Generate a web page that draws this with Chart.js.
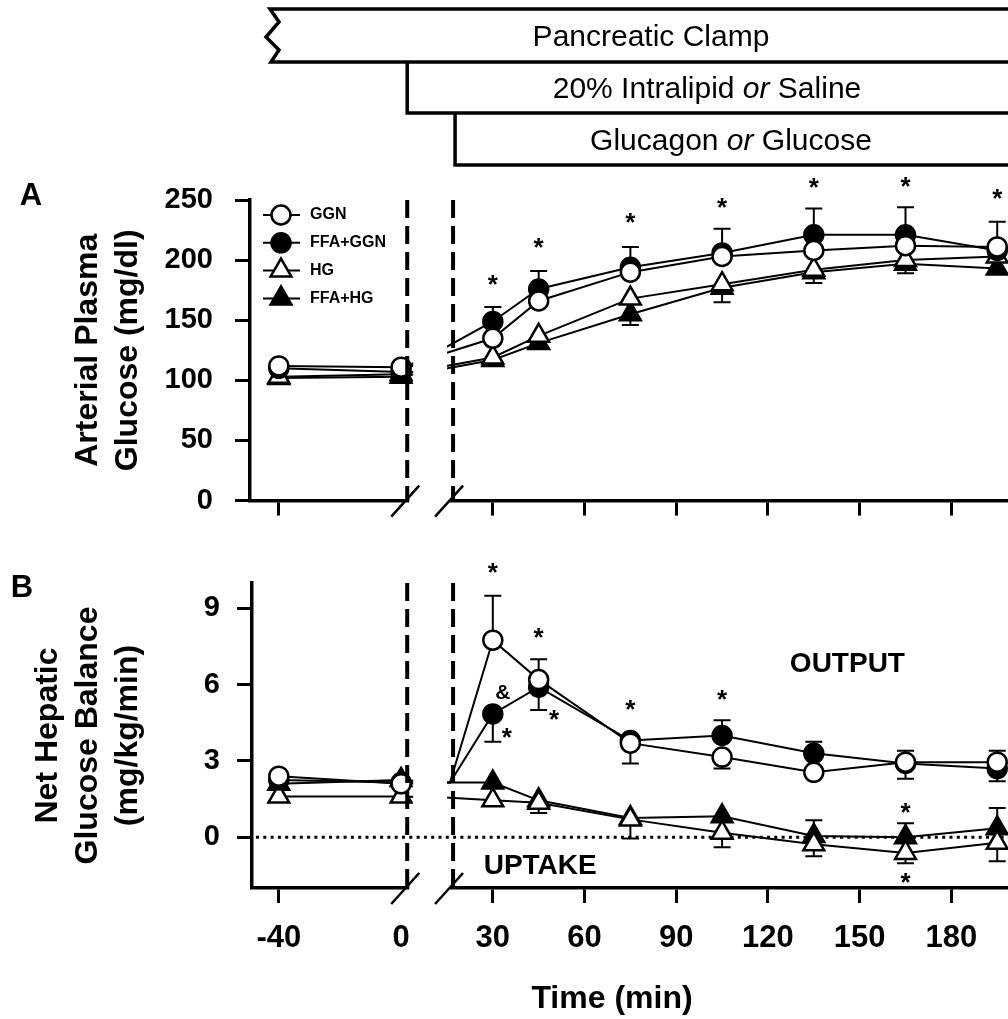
<!DOCTYPE html>
<html>
<head>
<meta charset="utf-8">
<script src="https://cdn.jsdelivr.net/npm/chart.js@4.4.0/dist/chart.umd.min.js"></script>
<style>
  body { margin: 0; background: #fff; }
  #wrap { position: relative; width: 1008px; height: 1019px; overflow: hidden; }
  canvas { position: absolute; left: 0; }
  #chartA { top: 0; }
  #chartB { top: 540px; }
</style>
</head>
<body>
<div id="wrap">
  <!-- a bit wider than the page: Chart.js keeps room for the end symbols on the right -->
  <canvas id="chartA" width="1023" height="540"></canvas>
  <canvas id="chartB" width="1023" height="479"></canvas>
</div>
<script>
const FONT = '"Liberation Sans", Arial, Helvetica, sans-serif'

const seriesNames = ['GGN', 'FFA+GGN', 'HG', 'FFA+HG']
const xTicks = [-40, 0, 30, 60, 90, 120, 150, 180]

// panel A: arterial plasma glucose (mg/dl)
const timesA = [-40, 0, 30, 45, 75, 105, 135, 165, 195]
const ggnA = [112, 111, 135, 166, 190, 203, 208, 212, 211]
const ffaGgnA = [110, 107, 149, 176, 194, 206, 221, 221, 208]
const hgA = [103, 105, 119, 137, 168, 180, 192, 200, 203]
const ffaHgA = [102, 103, 117, 131, 155, 177, 190, 197, 193]
// SEM, sign = side of the point the bar is drawn on, 0 = not shown
const ggnErrA = [0, 0, 0, 0, 0, 0, 0, 0, 0]
const ffaGgnErrA = [0, 0, 12, 15, 17, 20, 22, 23, 24]
const hgErrA = [0, 0, 0, 0, 0, -15, -11, -11, 0]
const ffaHgErrA = [0, 0, 0, -4, -9, 0, 0, 0, 0]
const yTicksA = [0, 50, 100, 150, 200, 250]
const starsA = [[30, 184], [45, 214.5], [75, 235], [105, 248], [135, 264], [165, 265], [195, 255]]

// panel B: net hepatic glucose balance (mg/kg/min)
const timesB = [-40, 0, 16, 30, 45, 75, 105, 135, 165, 195]
const lineStartB = 16 // post-break lines start here, no symbol
const ggnB = [2.4, 2.1, 2.15, 7.75, 6.2, 3.7, 3.15, 2.55, 2.95, 2.95]
const ffaGgnB = [2.25, 2.15, 2.15, 4.85, 5.9, 3.8, 4.0, 3.3, 2.9, 2.7]
const hgB = [1.6, 1.6, 1.55, 1.45, 1.35, 0.7, 0.17, -0.28, -0.62, -0.22]
const ffaHgB = [2.1, 2.25, 2.15, 2.15, 1.45, 0.75, 0.82, 0.05, 0.0, 0.35]
const ggnErrB = [0, 0, 0, 1.75, 0.8, -0.8, -0.45, 0, 0.45, 0.45]
const ffaGgnErrB = [0, 0, 0, -1.1, -0.9, 0, 0.6, 0.45, -0.6, -0.5]
const hgErrB = [0, 0, 0, 0, -0.4, 0, -0.57, -0.47, -0.41, -0.73]
const ffaHgErrB = [0, 0, 0, 0, 0, -0.8, 0, 0.62, 0.55, 0.8]
const yTicksB = [0, 3, 6, 9]
const marksB = [[30, 10.6, '*'], [33.3, 5.65, '&'], [34.6, 4.1, '*'], [45, 8.05, '*'], [50, 4.8, '*'],
  [75, 5.2, '*'], [105, 5.6, '*'], [165, 1.15, '*'], [165, -1.6, '*']]
const labelsB = [[146, 6.8, 'OUTPUT'], [45.5, -1.15, 'UPTAKE']]

// axis break (min)
const breakFrom = 2
const breakTo = 17

const styles = [
  { shape: 'circle', fill: '#fff', r: 9.5 },
  { shape: 'circle', fill: '#000', r: 9.5 },
  { shape: 'triangle', fill: '#fff', r: 12 },
  { shape: 'triangle', fill: '#000', r: 12 }
]

function makeSets(times, series, hidePointAt) {
  return series.map((vals, i) => ({
    label: seriesNames[i],
    data: times.map((t, j) => ({ x: t, y: vals[j] })),
    borderColor: '#000',
    borderWidth: 2,
    pointStyle: styles[i].shape,
    pointRadius: ctx => (times[ctx.dataIndex] === hidePointAt ? 0 : styles[i].r),
    pointBackgroundColor: styles[i].fill,
    pointBorderColor: '#000',
    pointBorderWidth: 2.5,
    tension: 0
  }))
}

function drawErrors(chart, errs) {
  const { ctx, scales: { x, y } } = chart
  ctx.save()
  ctx.strokeStyle = '#000'
  ctx.lineWidth = 2
  errs.forEach((arr, i) => {
    const pts = chart.data.datasets[i].data
    arr.forEach((e, j) => {
      if (!e) return
      const px = x.getPixelForValue(pts[j].x)
      const py = y.getPixelForValue(pts[j].y)
      const pe = y.getPixelForValue(pts[j].y + e)
      ctx.beginPath()
      ctx.moveTo(px, py)
      ctx.lineTo(px, pe)
      ctx.moveTo(px - 8.5, pe)
      ctx.lineTo(px + 8.5, pe)
      ctx.stroke()
    })
  })
  ctx.restore()
}

function drawZeroLine(chart) {
  const { ctx, chartArea: a, scales: { y } } = chart
  const y0 = y.getPixelForValue(0)
  ctx.save()
  ctx.strokeStyle = '#000'
  ctx.lineWidth = 3
  ctx.setLineDash([3, 4.3])
  ctx.beginPath()
  ctx.moveTo(a.left + 4, y0)
  ctx.lineTo(a.right, y0)
  ctx.stroke()
  ctx.restore()
}

function drawBreak(chart, keepZero) {
  const { ctx, chartArea: a, scales: { x, y } } = chart
  const xa = x.getPixelForValue(breakFrom)
  const xb = x.getPixelForValue(breakTo)
  const l = xa + 6
  const w = xb - 6 - l
  ctx.save()
  ctx.fillStyle = '#fff'
  if (keepZero) {
    const y0 = y.getPixelForValue(0)
    ctx.fillRect(l, a.top, w, y0 - 3 - a.top)
    ctx.fillRect(l, y0 + 3, w, a.bottom - 3 - y0 - 3)
  } else {
    ctx.fillRect(l, a.top, w, a.bottom - 3 - a.top)
  }
  ctx.fillRect(xa + 2, a.bottom - 3, xb - xa - 5, 6)

  ctx.strokeStyle = '#000'
  ctx.lineWidth = 4
  ctx.setLineDash([18, 8])
  ;[xa, xb].forEach(px => {
    ctx.beginPath()
    ctx.moveTo(px, a.top)
    ctx.lineTo(px, a.bottom)
    ctx.stroke()
  })
  ctx.setLineDash([])
  ctx.lineWidth = 2.5
  ;[xa - 2, xb - 4].forEach(px => {
    ctx.beginPath()
    ctx.moveTo(px - 14, a.bottom + 16)
    ctx.lineTo(px + 14, a.bottom - 15)
    ctx.stroke()
  })
  ctx.restore()
}

function drawMarks(chart, marks) {
  const { ctx, scales: { x, y } } = chart
  ctx.save()
  ctx.fillStyle = '#000'
  ctx.textAlign = 'center'
  ctx.textBaseline = 'middle'
  marks.forEach(([t, v, s = '*']) => {
    const size = s === '*' ? 26 : 21
    ctx.font = `bold ${size}px ${FONT}`
    ctx.fillText(s, x.getPixelForValue(t), y.getPixelForValue(v) + (s === '*' ? size * 0.23 : 0))
  })
  ctx.restore()
}

function drawLabels(chart, labels) {
  const { ctx, scales: { x, y } } = chart
  ctx.save()
  ctx.fillStyle = '#000'
  ctx.textAlign = 'center'
  ctx.textBaseline = 'middle'
  ctx.font = `bold 28px ${FONT}`
  labels.forEach(([t, v, s]) => ctx.fillText(s, x.getPixelForValue(t), y.getPixelForValue(v)))
  ctx.restore()
}

function drawLegend(chart) {
  const { ctx, chartArea: a } = chart
  ctx.save()
  seriesNames.forEach((name, i) => {
    const yy = a.top + 15 + i * 27.8
    ctx.strokeStyle = '#000'
    ctx.lineWidth = 2
    ctx.beginPath()
    ctx.moveTo(a.left + 13, yy)
    ctx.lineTo(a.left + 50, yy)
    ctx.stroke()
    ctx.fillStyle = styles[i].fill
    ctx.lineWidth = 2.5
    Chart.helpers.drawPoint(ctx, { pointStyle: styles[i].shape, radius: styles[i].r, rotation: 0, borderWidth: 2.5 }, a.left + 31, yy)
    ctx.fillStyle = '#000'
    ctx.font = `bold 16px ${FONT}`
    ctx.textAlign = 'left'
    ctx.textBaseline = 'middle'
    ctx.fillText(name, a.left + 60, yy)
  })
  ctx.restore()
}

function drawRich(ctx, parts, cx, cy, size) {
  const fonts = parts.map(p => `${p[1] ? 'italic ' : ''}${size}px ${FONT}`)
  let w = 0
  parts.forEach((p, i) => { ctx.font = fonts[i]; w += ctx.measureText(p[0]).width })
  let xx = cx - w / 2
  ctx.textAlign = 'left'
  ctx.textBaseline = 'middle'
  parts.forEach((p, i) => {
    ctx.font = fonts[i]
    ctx.fillText(p[0], xx, cy)
    xx += ctx.measureText(p[0]).width
  })
}

function drawBanner(chart) {
  const { ctx, scales: { x } } = chart
  const xa = x.getPixelForValue(breakFrom)
  const xb = x.getPixelForValue(breakTo) + 2
  const R = 1030
  ctx.save()
  ctx.strokeStyle = '#000'
  ctx.lineWidth = 3.5
  ctx.lineJoin = 'miter'
  ctx.beginPath()
  ctx.moveTo(R, 9)
  ctx.lineTo(270, 9)
  ctx.lineTo(279, 22)
  ctx.lineTo(266, 37)
  ctx.lineTo(279, 50)
  ctx.lineTo(271, 62)
  ctx.lineTo(R, 62)
  ctx.moveTo(xa, 62)
  ctx.lineTo(xa, 113)
  ctx.lineTo(R, 113)
  ctx.moveTo(xb, 113)
  ctx.lineTo(xb, 165)
  ctx.lineTo(R, 165)
  ctx.stroke()
  ctx.fillStyle = '#000'
  drawRich(ctx, [['Pancreatic Clamp', false]], 651, 38, 30)
  drawRich(ctx, [['20% Intralipid ', false], ['or', true], [' Saline', false]], 707, 90, 30)
  drawRich(ctx, [['Glucagon ', false], ['or', true], [' Glucose', false]], 731, 142, 30)
  ctx.restore()
}

function drawText(ctx, s, x, y, font) {
  ctx.save()
  ctx.fillStyle = '#000'
  ctx.font = font
  ctx.textAlign = 'center'
  ctx.textBaseline = 'middle'
  ctx.fillText(s, x, y)
  ctx.restore()
}

const pluginA = {
  id: 'panelA',
  beforeDatasetsDraw(chart) { drawErrors(chart, [ggnErrA, ffaGgnErrA, hgErrA, ffaHgErrA]) },
  afterDatasetsDraw(chart) { drawBreak(chart, false) },
  afterDraw(chart) {
    drawMarks(chart, starsA)
    drawLegend(chart)
    drawBanner(chart)
    drawText(chart.ctx, 'A', 31, 196, `bold 31px ${FONT}`)
  }
}

const pluginB = {
  id: 'panelB',
  beforeDatasetsDraw(chart) {
    drawZeroLine(chart)
    drawErrors(chart, [ggnErrB, ffaGgnErrB, hgErrB, ffaHgErrB])
  },
  afterDatasetsDraw(chart) { drawBreak(chart, true) },
  afterDraw(chart) {
    drawMarks(chart, marksB)
    drawLabels(chart, labelsB)
    drawText(chart.ctx, 'B', 22, 48, `bold 31px ${FONT}`)
    drawText(chart.ctx, 'Time (min)', 612, 459, `bold 32px ${FONT}`)
  }
}

function axisStyle() {
  return {
    border: { display: true, color: '#000', width: 3.5 },
    grid: {
      drawOnChartArea: false,
      drawTicks: true,
      tickLength: 15,
      tickWidth: 3,
      tickColor: c => (c.tick && c.tick.value === 0 && c.scale.axis === 'x' ? 'rgba(0,0,0,0)' : '#000')
    }
  }
}

function makeChart(id, cfg) {
  const xAxis = axisStyle()
  const yAxis = axisStyle()
  return new Chart(document.getElementById(id), {
    type: 'line',
    data: { datasets: cfg.datasets },
    options: {
      responsive: false,
      animation: false,
      devicePixelRatio: 1,
      events: [],
      layout: { padding: { top: cfg.top, left: 0, right: 0, bottom: 0 } },
      plugins: { legend: { display: false }, tooltip: { enabled: false } },
      scales: {
        x: {
          type: 'linear',
          min: cfg.xMin,
          max: cfg.xMax,
          ...xAxis,
          afterBuildTicks: s => { s.ticks = xTicks.map(v => ({ value: v })) },
          afterFit: s => { s.height = cfg.xHeight },
          ticks: {
            display: cfg.xLabels,
            color: '#000',
            padding: 17,
            autoSkip: false,
            maxRotation: 0,
            font: { family: FONT, size: 31, weight: 'bold' }
          }
        },
        y: {
          min: cfg.yMin,
          max: cfg.yMax,
          ...yAxis,
          afterBuildTicks: s => { s.ticks = cfg.yTicks.map(v => ({ value: v })) },
          afterFit: s => { s.width = cfg.yWidth },
          ticks: {
            color: '#000',
            padding: cfg.yPad,
            font: { family: FONT, size: 29, weight: 'bold' }
          },
          title: {
            display: true,
            text: cfg.yTitle,
            color: '#000',
            padding: { top: cfg.titlePad, bottom: 0 },
            font: { family: FONT, size: 32, weight: 'bold', lineHeight: 1.25 }
          }
        }
      }
    },
    plugins: [cfg.plugin]
  })
}

// pixel per minute 3.055, t = 0 at x = 401
makeChart('chartA', {
  datasets: makeSets(timesA, [ggnA, ffaGgnA, hgA, ffaHgA], null),
  top: 200,
  xMin: -49.43,
  xMax: 198.69,
  xHeight: 37,
  xLabels: false,
  yMin: 0,
  yMax: 250,
  yTicks: yTicksA,
  yWidth: 250,
  yPad: 22,
  yTitle: ['Arterial Plasma', 'Glucose (mg/dl)'],
  titlePad: 68.5,
  plugin: pluginA
})

makeChart('chartB', {
  datasets: makeSets(timesB, [ggnB, ffaGgnB, hgB, ffaHgB], lineStartB),
  top: 43,
  xMin: -48.77,
  xMax: 198.69,
  xHeight: 131,
  xLabels: true,
  yMin: -2,
  yMax: 10,
  yTicks: yTicksB,
  yWidth: 252,
  yPad: 17,
  yTitle: ['Net Hepatic', 'Glucose Balance', '(mg/kg/min)'],
  titlePad: 28.5,
  plugin: pluginB
})
</script>
</body>
</html>
